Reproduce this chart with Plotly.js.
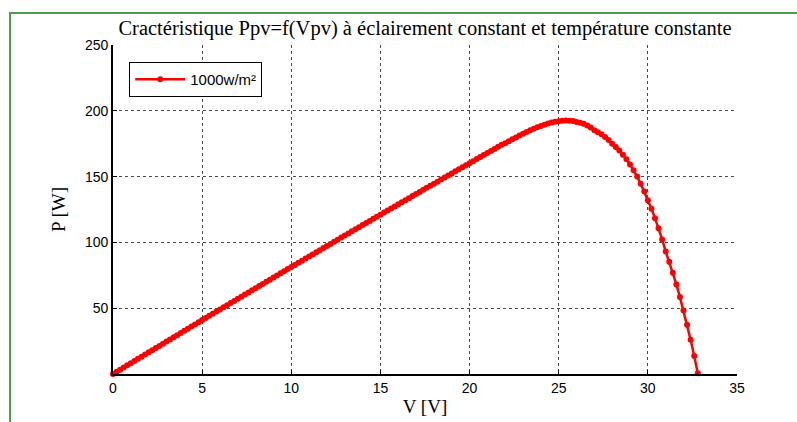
<!DOCTYPE html>
<html>
<head>
<meta charset="utf-8">
<script src="https://cdn.plot.ly/plotly-3.0.1.min.js"></script>
<style>
  html, body { margin: 0; padding: 0; background: #ffffff; }
  #wrap { position: relative; width: 797px; height: 422px; overflow: hidden; }
  #chart { position: absolute; left: 0; top: 0; width: 797px; height: 422px; }
  #frame { position: absolute; left: 9px; top: 12px; width: 800px; height: 420px;
           border-left: 2px solid #4f9a4f; border-top: 2px solid #4f9a4f; pointer-events: none; }
</style>
</head>
<body>
<div id="wrap">
  <div id="chart"></div>
  <div id="frame"></div>
</div>
<script>
// Voltage V [V]
const voltage = [
  0,0.2,0.4,0.6,0.8,1.0,1.2,1.4,1.6,1.8,2.0,2.2,2.4,2.6,2.8,3.0,3.2,3.4,3.6,3.8,
  4.0,4.2,4.4,4.6,4.8,5.0,5.2,5.4,5.6,5.8,6.0,6.2,6.4,6.6,6.8,7.0,7.2,7.4,7.6,7.8,
  8.0,8.2,8.4,8.6,8.8,9.0,9.2,9.4,9.6,9.8,10.0,10.2,10.4,10.6,10.8,11.0,11.2,11.4,11.6,11.8,
  12.0,12.2,12.4,12.6,12.8,13.0,13.2,13.4,13.6,13.8,14.0,14.2,14.4,14.6,14.8,15.0,15.2,15.4,15.6,15.8,
  16.0,16.2,16.4,16.6,16.8,17.0,17.2,17.4,17.6,17.8,18.0,18.2,18.4,18.6,18.8,19.0,19.2,19.4,19.6,19.8,
  20.0,20.2,20.4,20.6,20.8,21.0,21.2,21.4,21.6,21.8,22.0,22.2,22.4,22.6,22.8,23.0,23.2,23.4,23.6,23.8,
  24.0,24.2,24.4,24.6,24.8,25.0,25.2,25.4,25.6,25.8,26.0,26.2,26.4,26.6,26.8,27.0,27.2,27.4,27.6,27.8,
  28.0,28.2,28.4,28.6,28.8,29.0,29.2,29.4,29.6,29.8,30.0,30.2,30.4,30.6,30.8,31.0,31.2,31.4,31.6,31.8,
  32.0,32.2,32.4,32.6,32.8
];
// Power P [W]
const power = [
  0,1.65,3.30,4.95,6.59,8.24,9.88,11.53,13.17,14.81,16.45,18.09,19.73,21.37,23.01,24.64,26.28,27.91,29.54,31.18,
  32.81,34.44,36.07,37.70,39.32,40.95,42.58,44.20,45.82,47.45,49.07,50.69,52.31,53.93,55.55,57.16,58.78,60.39,62.01,63.62,
  65.23,66.84,68.45,70.06,71.67,73.28,74.88,76.49,78.09,79.70,81.30,82.90,84.50,86.10,87.70,89.30,90.89,92.49,94.09,95.68,
  97.27,98.86,100.45,102.04,103.63,105.22,106.81,108.40,109.98,111.56,113.15,114.73,116.31,117.89,119.47,121.05,122.63,124.20,125.78,127.35,
  128.93,130.50,132.07,133.64,135.21,136.78,138.35,139.92,141.48,143.05,144.61,146.18,147.74,149.30,150.86,152.42,153.98,155.53,157.09,158.65,
  160.20,161.75,163.31,164.86,166.41,167.96,169.51,171.05,172.60,174.15,175.43,176.91,178.36,179.79,181.19,182.54,183.86,185.13,186.33,187.45,
  188.46,189.44,190.32,191.06,191.63,192.00,192.38,192.56,192.50,192.18,191.54,190.95,190.07,188.85,187.24,185.19,183.79,182.10,180.09,177.72,
  174.96,172.54,169.78,166.67,163.16,159.24,154.87,149.99,144.58,138.60,131.99,125.52,118.44,110.71,102.28,93.11,85.32,76.97,68.03,58.45,
  48.20,37.43,25.95,13.67,0.60
];
const seriesName = '1000w/m\u00b2';
const titleText = 'Cractéristique Ppv=f(Vpv) à éclairement constant et température constante';
const xTickVals = [0,5,10,15,20,25,30,35];
const yTickVals = [50,100,150,200,250];

const trace = {
  x: voltage, y: power, type: 'scatter', mode: 'lines+markers', name: seriesName,
  line: {color: '#ff0000', width: 2.5},
  marker: {color: '#ff0000', size: 6, symbol: 'circle'},
  cliponaxis: false
};

const axisCommon = {
  showline: true, linecolor: '#000000', linewidth: 1.8,
  ticks: 'inside', ticklen: 4, tickcolor: '#000000', tickwidth: 1,
  showgrid: true, gridcolor: '#4a4a4a', gridwidth: 1, griddash: 'dot',
  zeroline: false,
  tickfont: {family: 'Liberation Sans, Arial, sans-serif', size: 14, color: '#000000'}
};

const layout = {
  width: 797, height: 422,
  paper_bgcolor: '#ffffff', plot_bgcolor: '#ffffff',
  margin: {l: 113, r: 60, t: 45, b: 48, pad: 0},
  title: {
    text: titleText,
    font: {family: 'Liberation Serif, Times New Roman, serif', size: 20.5, color: '#000000'},
    x: 0.5, xref: 'paper', xanchor: 'center', y: 0.935, yref: 'container', yanchor: 'middle'
  },
  xaxis: Object.assign({}, axisCommon, {
    range: [0, 35], tickvals: xTickVals, ticktext: xTickVals.map(String),
    title: {text: 'V [V]', standoff: 5,
      font: {family: 'Liberation Serif, Times New Roman, serif', size: 19, color: '#000000'}}
  }),
  yaxis: Object.assign({}, axisCommon, {
    range: [0, 250], tickvals: yTickVals, ticktext: yTickVals.map(String),
    title: {text: 'P [W]', standoff: 14,
      font: {family: 'Liberation Serif, Times New Roman, serif', size: 19, color: '#000000'}}
  }),
  showlegend: true,
  legend: {
    x: 0.026, y: 0.948, xanchor: 'left', yanchor: 'top',
    bgcolor: '#ffffff', bordercolor: '#000000', borderwidth: 1,
    font: {family: 'Liberation Sans, Arial, sans-serif', size: 15, color: '#000000'},
    itemwidth: 50
  }
};

Plotly.newPlot('chart', [trace], layout, {staticPlot: true, displayModeBar: false});
</script>
</body>
</html>
